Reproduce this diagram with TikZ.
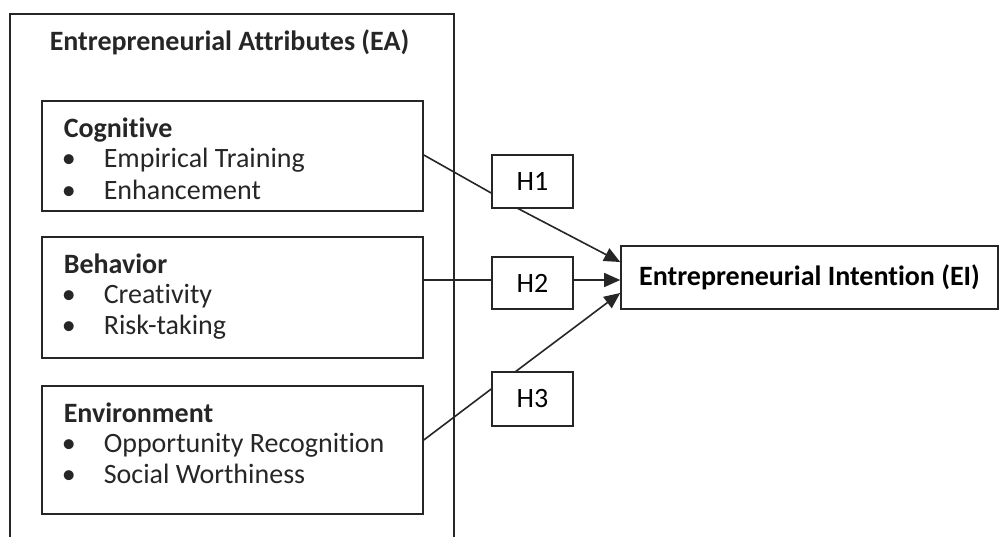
\documentclass[tikz,border=0pt]{standalone}
\usepackage{fontspec}
\setmainfont[Ligatures={NoCommon}]{Carlito}
\usetikzlibrary{arrows.meta}
\begin{document}
\begin{tikzpicture}[x=1pt,y=-1pt,
  line width=1.6pt, draw=black!85,
  box/.style={draw=black!85, line width=1.6pt, inner sep=0pt},
  txt/.style={anchor=base west, inner sep=0pt, font=\fontsize{28}{32}\selectfont, text=black!85},
  btxt/.style={txt, font=\fontsize{28}{32}\selectfont\bfseries},
  arr/.style={-{Triangle[length=16pt,width=14pt]}, line width=1.6pt, draw=black!85}]
\useasboundingbox (0,0) rectangle (999,536);
% outer box (bottom cut off)
\draw[line width=1.6pt, draw=black!85] (10,540) -- (10,14) -- (454,14) -- (454,540);
\node[btxt] (eat) at (49,50) {Entrepreneurial Attributes (EA)};
% inner boxes
\node[box, minimum width=381pt, minimum height=110pt] (cog) at (232.5,156) {};
\node[box, minimum width=381pt, minimum height=121pt] (beh) at (232.5,297.5) {};
\node[box, minimum width=381pt, minimum height=128pt] (env) at (232.5,450) {};
% texts
\node[btxt] (cogt) at (63,137) {Cognitive};
\node[txt] (cogb1) at (61,167) {\textbullet};
\node[txt] (cog1) at (103,167) {Empirical Training};
\node[txt] (cogb2) at (61,199) {\textbullet};
\node[txt] (cog2) at (103,199) {Enhancement};
\node[btxt] (beht) at (63,273) {Behavior};
\node[txt] (behb1) at (61,303) {\textbullet};
\node[txt] (beh1) at (103,303) {Creativity};
\node[txt] (behb2) at (61,334) {\textbullet};
\node[txt] (beh2) at (103,334) {Risk-taking};
\node[btxt] (envt) at (63,422) {Environment};
\node[txt] (envb1) at (61,452) {\textbullet};
\node[txt] (env1) at (103,452) {Opportunity Recognition};
\node[txt] (envb2) at (61,483) {\textbullet};
\node[txt] (env2) at (103,483) {Social Worthiness};
% hypothesis boxes
\node[box, minimum width=81pt, minimum height=53pt, font=\fontsize{28}{32}\selectfont] (h1) at (532.5,181.5) {H1};
\node[box, minimum width=81pt, minimum height=52pt, font=\fontsize{28}{32}\selectfont] (h2) at (532.5,283) {H2};
\node[box, minimum width=81pt, minimum height=54pt, font=\fontsize{28}{32}\selectfont] (h3) at (532.5,399) {H3};
% outcome
\node[box, minimum width=377pt, minimum height=63pt, font=\fontsize{28}{32}\selectfont\bfseries] (ei) at (809.5,277.5) {Entrepreneurial Intention (EI)};
% connectors
\coordinate (cogr) at (cog.east |- 0,155);
\coordinate (h1l) at (h1.west |- 0,193);
\draw (cogr) -- (h1l);
\coordinate (h1b) at (517,208);
\coordinate (eia) at (ei.west |- 0,262);
\draw[arr] (h1b) -- (eia);
\coordinate (behr) at (beh.east |- 0,280);
\coordinate (h2l) at (h2.west |- 0,280);
\draw (behr) -- (h2l);
\coordinate (h2r) at (h2.east |- 0,280);
\coordinate (eib) at (ei.west |- 0,280);
\draw[arr] (h2r) -- (eib);
\coordinate (envr) at (env.east |- 0,440);
\coordinate (h3l) at (h3.west |- 0,389);
\draw (envr) -- (h3l);
\coordinate (h3t) at (515,372);
\coordinate (eic) at (ei.west |- 0,293);
\draw[arr] (h3t) -- (eic);
\end{tikzpicture}
\end{document}
